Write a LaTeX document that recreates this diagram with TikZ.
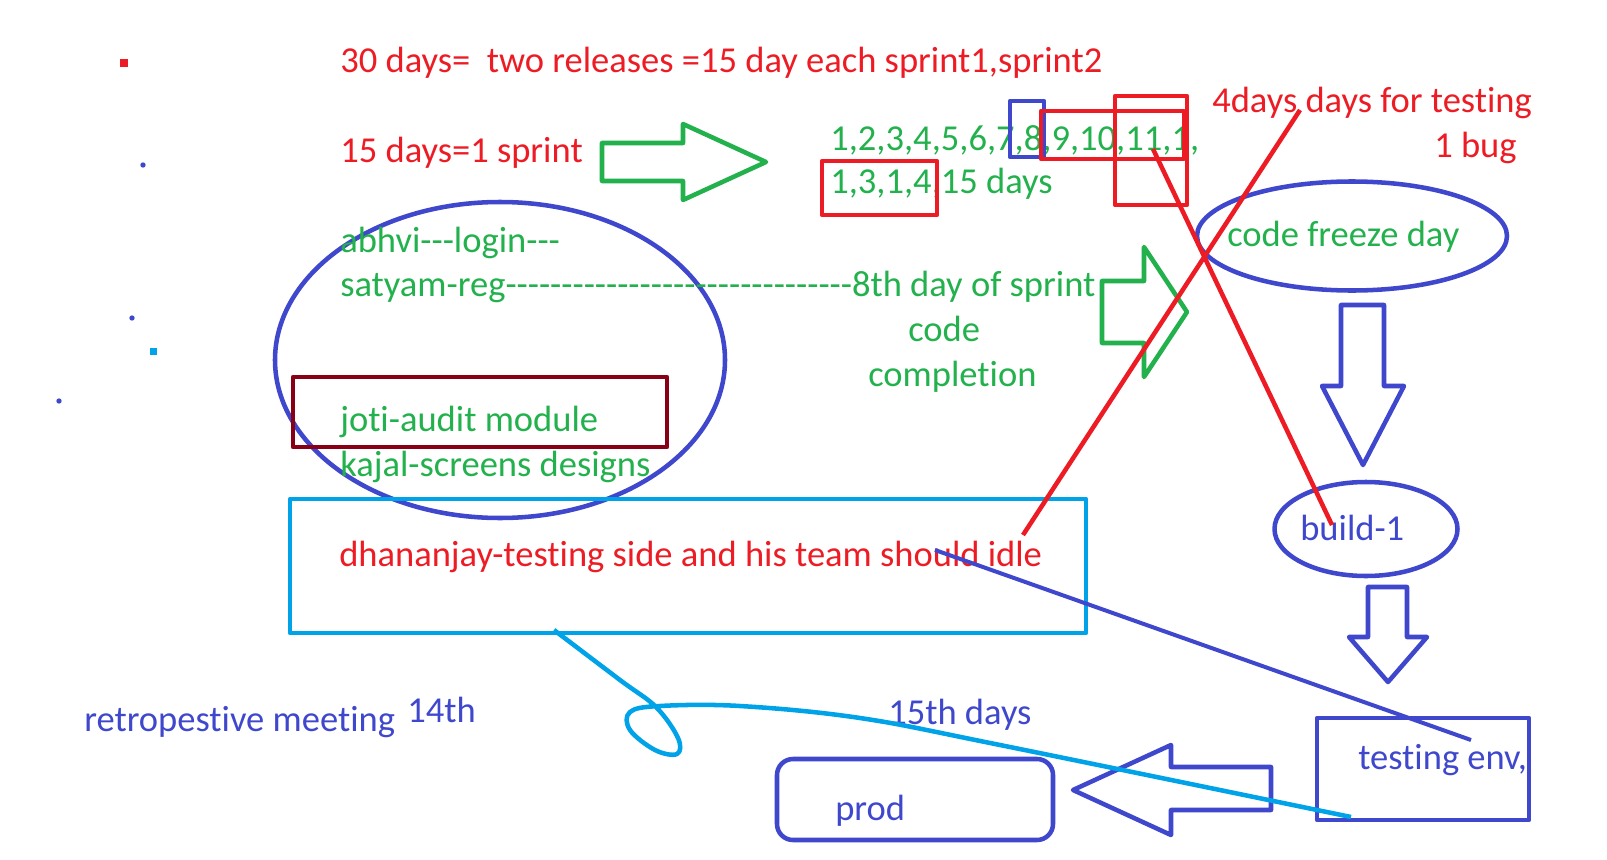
\documentclass[tikz,border=0pt]{standalone}
\usepackage{fontspec}
\setmainfont{Carlito}[Ligatures={TeXOff,CommonOff}]
\usetikzlibrary{shapes.geometric}
\definecolor{pred}{HTML}{ED1C24}
\definecolor{pgreen}{HTML}{22B14C}
\definecolor{pblue}{HTML}{3F48CC}
\definecolor{pcyan}{HTML}{00A2E8}
\definecolor{pmaroon}{HTML}{880015}
\begin{document}
\begin{tikzpicture}[x=0.75pt,y=-0.75pt,line join=round,
 lbl/.style={anchor=base west,inner sep=0,font=\fontsize{27.4}{31}\selectfont},
 rt/.style={lbl,text=pred},gt/.style={lbl,text=pgreen},bt/.style={lbl,text=pblue},
 pen/.style={line width=3.4pt},
 oval/.style={draw=pblue,pen,ellipse,inner sep=0}]
\useasboundingbox (0,0) rectangle (1607,860);
\fill[pred](120,59)rectangle(128,67);\fill[pcyan](150,348)rectangle(157,355);
\foreach \x/\y in {143/165,132/318,59/401}\fill[pblue](\x,\y)circle[radius=2pt];
\node[rt](rel)at(340,72){30 days=\ \ two releases =15 day each sprint1,sprint2};
\node[rt](spr)at(340,162){15 days=1 sprint};
\draw[pgreen,pen](602,143)--(683,143)--(683,124)--(766,162)--(683,200)--(683,181)--(602,181)--cycle;
\node[gt](d1)at(830,150){1,2,3,4,5,6,7,8,9,10,11,1,};
\node[gt](d2)at(830,193){1,3,1,4,15 days};
\draw[pblue,pen](1010,101)rectangle(1044,157);
\draw[pred,pen](1041,111)rectangle(1184,159);\draw[pred,pen](1115,96)rectangle(1187,205);
\draw[pred,pen](822,161)rectangle(937,215);
\node[rt](tst)at(1212,112){4days days for testing};
\node[rt](bug)at(1434,157){1 bug};
\node[oval,minimum width=310*0.75pt,minimum height=109*0.75pt](frz)at(1352,236){};
\node[gt](frzt)at(1227,246){code freeze day};
\node[oval,minimum width=450*0.75pt,minimum height=316*0.75pt](team)at(500,360){};
\node[gt](abh)at(340,252){abhvi---login---};
\node[gt](sat)at(340,296){satyam-reg-------------------------------8th day of sprint};
\node[gt](cd)at(908,341){code};\node[gt](cmp)at(868,386){completion};
\draw[pgreen,pen](1102,281)--(1144,281)--(1144,247)--(1187,312)--(1144,377)--(1144,343)--(1102,343)--cycle;
\draw[pmaroon,pen](293,377)rectangle(667,447);
\node[gt](jot)at(340,431){joti-audit module};
\node[gt](kaj)at(340,476){kajal-screens designs};
\draw[pcyan,pen](290,499)rectangle(1086,633);
\node[rt](dha)at(339,566){dhananjay-testing side and his team should idle};
\draw[pblue,pen](1341,305)--(1384,305)--(1384,386)--(1404,386)--(1363,465)--(1322,386)--(1341,386)--cycle;
\node[oval,minimum width=183*0.75pt,minimum height=94*0.75pt](bld)at(1366,529){};
\node[bt](bldt)at(1300,540){build-1};
\draw[pblue,pen](1368,587)--(1407,587)--(1407,637)--(1427,637)--(1388,682)--(1349,637)--(1368,637)--cycle;
\draw[pblue,pen](1317,718)rectangle(1529,820);
\node[bt](env)at(1358,769){testing env,};
\draw[pblue,pen](1271,767)--(1171,767)--(1171,745)--(1073,790)--(1171,835)--(1171,810)--(1271,810)--cycle;
\draw[pblue,pen,rounded corners=12pt](777,759)rectangle(1053,840);
\node[bt](prd)at(835,820){prod};
\node[bt](d15)at(888,724){15th days};
\node[bt](ret)at(84,731){retropestive meeting};
\node[bt](d14)at(407,722){14th};
\coordinate(a1)at(1300,110);\coordinate(a2)at(1023,535);
\coordinate(b1)at(1153,149);\coordinate(b2)at(1332,525);
\draw[pred,pen](a1)--(a2);\draw[pred,pen](b1)--(b2);
\coordinate(c1)at(935,550);\coordinate(c2)at(1471,740);
\draw[pblue,line width=3pt](c1)--(c2);
\coordinate(l0)at(554,630);\coordinate(l1)at(1351,817);
\draw[pcyan,pen]plot[smooth,tension=0.6]coordinates{(l0)(620,680)(656,707)(678,738)(677,754)(655,750)(630,730)(630,712)(660,706)(740,706)(860,718)(1000,745)(l1)};
\end{tikzpicture}
\end{document}
